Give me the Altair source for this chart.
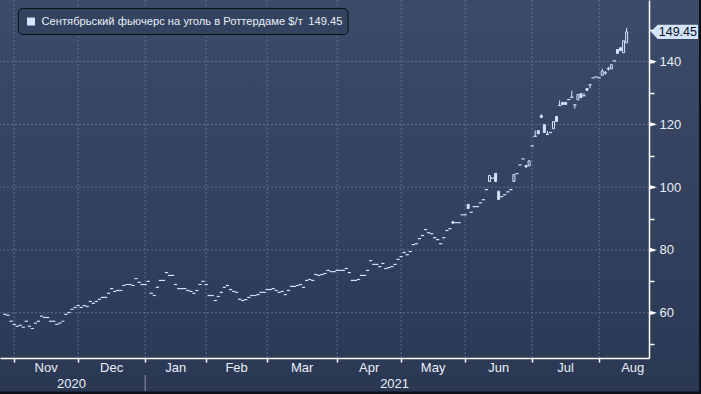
import altair as alt
import pandas as pd

# ---------------- data ----------------
HOLIDAYS = ["2020-12-25", "2021-01-01", "2021-04-02"]
CAL = [d for d in pd.bdate_range("2020-10-28", "2021-09-01")
       if d.strftime("%Y-%m-%d") not in HOLIDAYS]

CLOSE = [
    59.5, 59.2, 57.3, 56.3, 55.7, 56.0, 55.4, 57.3, 55.7, 55.0,
    56.7, 57.3, 58.9, 58.5, 58.5, 57.3, 57.3, 56.3, 56.7, 57.3,
    59.5, 60.1, 61.1, 61.7, 62.3, 61.7, 62.3, 62.0, 63.6, 63.0,
    63.6, 64.3, 64.9, 64.9, 66.2, 67.7, 66.8, 67.1, 67.1, 68.7,
    69.0, 69.0, 68.7, 70.9, 69.7, 69.0, 69.0, 70.0, 66.2, 65.5,
    68.1, 70.3, 70.3, 72.8, 71.9, 71.9, 69.0, 67.7, 67.7, 67.7,
    67.1, 66.8, 66.2, 67.1, 69.0, 70.0, 69.0, 65.5, 65.5, 63.9,
    65.2, 66.5, 68.1, 68.7, 67.4, 66.8, 66.5, 64.3, 63.9, 64.2,
    64.9, 65.5, 65.5, 65.8, 66.5, 66.5, 67.4, 67.4, 67.7, 67.1,
    66.5, 66.8, 65.8, 67.1, 68.4, 68.4, 68.7, 69.0, 68.1, 70.3,
    70.6, 70.3, 72.2, 71.9, 72.2, 72.5, 73.5, 73.1, 73.1, 73.5,
    73.5, 73.5, 74.1, 72.8, 70.3, 70.3, 70.6, 71.9, 71.9, 73.5,
    76.6, 75.4, 75.4, 74.7, 75.7, 74.1, 74.4, 74.7, 75.4, 77.0,
    77.9, 79.2, 78.5, 79.5, 81.7, 82.0, 83.6, 84.6, 86.5, 85.5,
    85.2, 83.9, 83.3, 82.0, 83.9, 86.2, 86.8, 88.5, 88.7, 88.7,
    91.2, 91.2, 93.2, 92.0, 93.8, 93.8, 95.0, 96.0, 99.2, 103.7,
    102.9, 101.8, 96.1, 97.0, 97.6, 98.5, 99.2, 104.0, 104.3, 107.1,
    109.0, 106.4, 108.4, 113.1, 116.2, 117.0, 122.2, 117.4, 116.8, 117.4,
    120.9, 120.9, 126.0, 126.3, 126.3, 127.9, 128.6, 126.2, 129.5, 128.5,
    129.1, 130.8, 132.6, 134.8, 135.1, 134.8, 137.0, 136.4, 137.7, 139.0,
    140.2, 142.6, 143.5, 146.6, 149.45,
]

OPEN = [
    59.5, 59.2, 57.3, 56.3, 55.7, 56.0, 55.4, 57.3, 55.7, 55.0,
    56.7, 57.3, 58.9, 58.5, 58.5, 57.3, 57.3, 56.3, 56.7, 57.3,
    59.5, 60.1, 61.1, 61.7, 62.3, 61.7, 62.3, 62.0, 63.6, 63.0,
    63.6, 64.3, 64.9, 64.9, 66.2, 67.7, 66.8, 67.1, 67.1, 68.7,
    69.0, 69.0, 68.7, 70.9, 69.7, 69.0, 69.0, 70.0, 66.2, 65.5,
    68.1, 70.3, 70.3, 72.8, 71.9, 71.9, 69.0, 67.7, 67.7, 67.7,
    67.1, 66.8, 66.2, 67.1, 69.0, 70.0, 69.0, 65.5, 65.5, 63.9,
    65.2, 66.5, 68.1, 68.7, 67.4, 66.8, 66.5, 64.3, 63.9, 64.2,
    64.9, 65.5, 65.5, 65.8, 66.5, 66.5, 67.4, 67.4, 67.7, 67.1,
    66.5, 66.8, 65.8, 67.1, 68.4, 68.4, 68.7, 69.0, 68.1, 70.3,
    70.6, 70.3, 72.2, 71.9, 72.2, 72.5, 73.5, 73.1, 73.1, 73.5,
    73.5, 73.5, 74.1, 72.8, 70.3, 70.3, 70.6, 71.9, 71.9, 73.5,
    76.6, 75.4, 75.4, 74.7, 75.7, 74.1, 74.4, 74.7, 75.4, 77.0,
    77.9, 79.2, 78.5, 79.5, 81.7, 82.0, 83.6, 84.6, 86.5, 85.5,
    85.2, 83.9, 83.3, 82.0, 83.9, 86.2, 86.8, 89.0, 88.7, 88.7,
    91.2, 91.2, 94.5, 92.0, 93.8, 93.8, 95.0, 96.0, 99.2, 101.8,
    102.9, 104.4, 98.7, 97.0, 97.6, 98.5, 99.2, 101.8, 104.3, 107.1,
    109.0, 106.9, 106.8, 113.1, 116.2, 118.0, 122.8, 119.9, 116.8, 117.4,
    118.6, 122.5, 126.0, 127.0, 127.0, 127.9, 128.6, 126.2, 127.8, 129.8,
    129.1, 131.4, 132.6, 134.8, 135.1, 134.8, 135.6, 136.4, 137.7, 137.7,
    140.2, 143.8, 144.4, 142.8, 146.0,
]

# candles whose shadows reach beyond the body
WICK_IDX = [174, 176, 178, 182, 186, 187, 190, 192, 196, 197, 198, 204]
WICK_LOW = [116.0, 122.2, 116.7, 126.0, 128.6, 125.0, 129.1, 131.5, 135.6, 135.8, 137.1, 146.0]
WICK_HIGH = [118.1, 123.2, 117.9, 127.6, 130.7, 126.2, 130.0, 132.6, 137.7, 137.0, 138.3, 150.7]

Y_TICKS = [50, 60, 70, 80, 90, 100, 110, 120, 130, 140, 150, 160]
Y_MAJOR = [60, 80, 100, 120, 140]
LEGEND_TEXT = "Сентябрьский фьючерс на уголь в Роттердаме $/т"

# ---------------- styling ----------------
FONT = "Liberation Sans"
CANDLE = "#d3e4fb"
TEXT = "#e9eef6"
GRID = "#5d6f8f"
W, H = 649, 358

n = len(CLOSE)
df = pd.DataFrame({"i": list(range(n)), "open": OPEN, "close": CLOSE})
df["blo"] = df[["open", "close"]].min(axis=1)
df["bhi"] = df[["open", "close"]].max(axis=1)
df["low"] = df["blo"]
df["high"] = df["bhi"]
for k, lo, hi in zip(WICK_IDX, WICK_LOW, WICK_HIGH):
    df.loc[k, "low"] = lo
    df.loc[k, "high"] = hi
df["up"] = df["close"] > df["open"]
df["flat"] = df["close"] == df["open"]

# month boundaries (first trading day of each month) on the trading-day index
periods = [d.to_period("M") for d in CAL]
starts = [i for i in range(1, len(CAL)) if periods[i] != periods[i - 1]]
month_starts = [s for s in starts if s < 209]
months = pd.DataFrame({
    "s": month_starts,
    "mid": [(starts[k] + starts[k + 1]) / 2 for k in range(len(month_starts))],
    "name": [CAL[s].strftime("%b") for s in month_starts],
})
XMIN, XMAX = 0.0, 209.7
jan = [s for s in month_starts if CAL[s].month == 1][0]
years = pd.DataFrame({"x": [(XMIN + jan) / 2 - 1.2, (jan + XMAX) / 2], "name": ["2020", "2021"]})

xs = alt.Scale(domain=[XMIN, XMAX], nice=False, zero=False)
ys = alt.Scale(domain=[45.6, 159.6], nice=False, zero=False)

XA = alt.Axis(values=month_starts, labels=False, title=None, grid=False,
              tickSize=4, tickColor="white", domainColor="white",
              domainWidth=1.5, tickWidth=1.5, zindex=1)
YA = alt.Axis(orient="right", values=Y_TICKS, title=None, grid=False,
              labelExpr="datum.value % 20 == 0 && datum.value < 150 ? datum.label : ''",
              tickSize=5, tickColor="white", domainColor="white",
              domainWidth=1.5, tickWidth=1.5, labelPadding=5,
              labelFont=FONT, labelFontSize=13, labelColor=TEXT, zindex=1)

one = pd.DataFrame({"a": [0]})

bg = alt.Chart(one).mark_rect(
    fill=alt.Gradient(gradient="linear",
                      stops=[alt.GradientStop(color="#3c4b6a", offset=0),
                             alt.GradientStop(color="#2b3854", offset=1)],
                      x1=0, x2=0, y1=0, y2=1)
).encode(x=alt.value(0), x2=alt.value(701), y=alt.value(0), y2=alt.value(394))

edge_b = alt.Chart(one).mark_rect(fill="#0c1018").encode(
    x=alt.value(0), x2=alt.value(701), y=alt.value(391.5), y2=alt.value(394))
edge_r = alt.Chart(one).mark_rect(fill="#0c1018").encode(
    x=alt.value(699), x2=alt.value(701), y=alt.value(0), y2=alt.value(394))

hgrid = alt.Chart(pd.DataFrame({"v": Y_MAJOR})).mark_rule(
    color=GRID, strokeDash=[2, 2], strokeWidth=1
).encode(y=alt.Y("v:Q", scale=ys, axis=YA))

vgrid = alt.Chart(months).mark_rule(
    color=GRID, strokeDash=[2, 2], strokeWidth=1
).encode(x=alt.X("s:Q", scale=xs, axis=XA))

base = alt.Chart(df)
wick_lo = base.mark_rule(color=CANDLE, strokeWidth=1).encode(
    x=alt.X("i:Q", scale=xs, axis=XA),
    y=alt.Y("low:Q", scale=ys, axis=YA), y2="blo:Q")
wick_hi = base.mark_rule(color=CANDLE, strokeWidth=1).encode(
    x=alt.X("i:Q", scale=xs, axis=XA),
    y=alt.Y("bhi:Q", scale=ys, axis=YA), y2="high:Q")

bodies = base.transform_filter("!datum.flat").mark_bar(
    size=2, stroke=CANDLE, strokeWidth=1
).encode(
    x=alt.X("i:Q", scale=xs, axis=XA),
    y=alt.Y("blo:Q", scale=ys, axis=YA),
    y2="bhi:Q",
    fill=alt.condition("datum.up", alt.value("transparent"), alt.value(CANDLE)),
)

flats = base.transform_filter("datum.flat").mark_tick(
    orient="horizontal", size=3.2, thickness=1.2, color=CANDLE, opacity=1
).encode(
    x=alt.X("i:Q", scale=xs, axis=XA),
    y=alt.Y("close:Q", scale=ys, axis=YA),
)

arrows = alt.Chart(pd.DataFrame({"v": Y_MAJOR})).mark_point(
    shape="M-1,-0.6L1,0L-1,0.6Z", size=64, filled=True, fill="white", opacity=1, strokeWidth=0
).encode(y=alt.Y("v:Q", scale=ys, axis=YA), x=alt.value(653))

last = pd.DataFrame({"v": [CLOSE[-1]], "t": [f"{CLOSE[-1]:.2f}"], "leg": [LEGEND_TEXT]})
tag = alt.Chart(last).mark_point(
    shape="M-1,0L-0.72,-0.3L1,-0.3L1,0.3L-0.72,0.3Z", size=2209, filled=True,
    fill="#d3e4fb", opacity=1, strokeWidth=0
).encode(y=alt.Y("v:Q", scale=ys, axis=YA), x=alt.value(674.5))
tag_text = alt.Chart(last).mark_text(
    align="right", baseline="middle", font=FONT, fontSize=12.5, color="#0d121c"
).encode(y=alt.Y("v:Q", scale=ys, axis=YA), x=alt.value(697), text="t:N")

leg_box = alt.Chart(one).mark_rect(
    fill="#33425f", stroke="#0b0f17", strokeWidth=1, cornerRadius=4
).encode(x=alt.value(18.5), x2=alt.value(348), y=alt.value(8.5), y2=alt.value(34.5))
leg_sq = alt.Chart(one).mark_rect(fill="#d3e4fb").encode(
    x=alt.value(27), x2=alt.value(35), y=alt.value(17.5), y2=alt.value(25.5))
leg_text = alt.Chart(last).mark_text(
    align="left", baseline="middle", font=FONT, fontSize=11.2, color=TEXT
).encode(x=alt.value(41.5), y=alt.value(21.5), text="leg:N")
leg_val = alt.Chart(last).mark_text(
    align="right", baseline="middle", font=FONT, fontSize=11.2, color=TEXT
).encode(x=alt.value(342.5), y=alt.value(21.5), text="t:N")

mlabels = alt.Chart(months).mark_text(
    baseline="middle", font=FONT, fontSize=13, color=TEXT
).encode(x=alt.X("mid:Q", scale=xs, axis=XA), y=alt.value(368), text="name:N")
ylabels = alt.Chart(years).mark_text(
    baseline="middle", font=FONT, fontSize=13, color=TEXT
).encode(x=alt.X("x:Q", scale=xs, axis=XA), y=alt.value(384), text="name:N")
sep = alt.Chart(pd.DataFrame({"s": [jan]})).mark_rule(color="#8c95a8", strokeWidth=1).encode(
    x=alt.X("s:Q", scale=xs, axis=XA), y=alt.value(375), y2=alt.value(391))

chart = alt.layer(
    bg, hgrid, vgrid, leg_box, leg_sq, leg_text, leg_val, wick_lo, wick_hi, bodies, flats,
    arrows, tag, tag_text, mlabels, ylabels, sep, edge_b, edge_r,
).properties(
    width=W, height=H,
    padding={"left": 0, "top": 0, "right": 52, "bottom": 36},
    autosize=alt.AutoSizeParams(type="none"),
    background="#2f3d59",
).configure_view(strokeWidth=0)

chart.save("out.html", embed_options={"renderer": "svg", "actions": False})
